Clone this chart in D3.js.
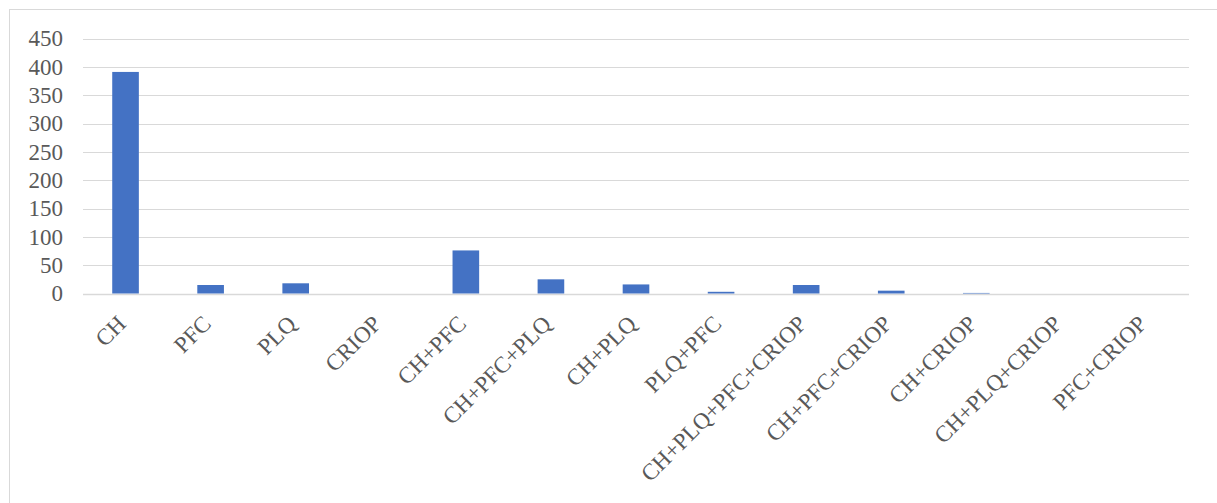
<!DOCTYPE html>
<html>
<head>
<meta charset="utf-8">
<script src="https://cdn.jsdelivr.net/npm/d3@7"></script>
<style>
  body { margin: 0; background: #fff; }
  text { font-family: "Liberation Serif", "Times New Roman", serif; fill: #595959; }
</style>
</head>
<body>
<div id="chart"></div>
<script>
// data
const categories = ["CH", "PFC", "PLQ", "CRIOP", "CH+PFC", "CH+PFC+PLQ", "CH+PLQ", "PLQ+PFC",
  "CH+PLQ+PFC+CRIOP", "CH+PFC+CRIOP", "CH+CRIOP", "CH+PLQ+CRIOP", "PFC+CRIOP"];
const counts = [391, 15, 18, 0, 76, 25, 16, 3, 15, 5, 1, 0, 0];
const yTicks = [0, 50, 100, 150, 200, 250, 300, 350, 400, 450];

const W = 1217, H = 503;
const margin = {top: 38.5, right: 28, bottom: 209.5, left: 83};

const svg = d3.select("#chart").append("svg")
    .attr("width", W)
    .attr("height", H);

// chart frame
svg.append("rect")
    .attr("x", 9.5).attr("y", 9.5)
    .attr("width", W).attr("height", H)
    .attr("fill", "none")
    .attr("stroke", "#d9d9d9")
    .attr("stroke-width", 1);

const x = d3.scaleBand()
    .domain(categories)
    .range([margin.left, W - margin.right])
    .paddingInner(0.687)
    .paddingOuter(0.3435);

const y = d3.scaleLinear()
    .domain([0, 450])
    .range([H - margin.bottom, margin.top]);

// gridlines
svg.append("g")
    .selectAll("line")
    .data(yTicks)
    .enter()
    .append("line")
    .attr("x1", margin.left)
    .attr("x2", W - margin.right)
    .attr("y1", d => Math.round(y(d)) + 0.5)
    .attr("y2", d => Math.round(y(d)) + 0.5)
    .attr("stroke", "#d9d9d9")
    .attr("stroke-width", d => d === 0 ? 1.5 : 1);

// y axis labels
const yAxis = svg.append("g")
    .attr("transform", "translate(" + (margin.left - 20) + ",0)")
    .call(d3.axisLeft(y).tickValues(yTicks).tickSize(0).tickPadding(0));
yAxis.select(".domain").remove();
yAxis.selectAll("text")
    .attr("font-size", 23)
    .attr("font-family", "Liberation Serif")
    .attr("fill", "#595959");

// bars
svg.append("g")
    .selectAll("rect")
    .data(categories)
    .enter()
    .append("rect")
    .attr("x", d => x(d))
    .attr("width", x.bandwidth())
    .attr("y", (d, i) => y(counts[i]))
    .attr("height", (d, i) => y(0) - y(counts[i]))
    .attr("fill", "#4472c4");

// rotated category labels
const xAxis = svg.append("g")
    .attr("transform", "translate(0," + (H - margin.bottom) + ")")
    .call(d3.axisBottom(x).tickSize(0).tickPadding(0));
xAxis.select(".domain").remove();
xAxis.selectAll("text")
    .attr("font-size", 23)
    .attr("font-family", "Liberation Serif")
    .attr("fill", "#595959")
    .attr("text-anchor", "end")
    .attr("dy", "0.35em")
    .attr("y", 0)
    .attr("transform", "translate(-4,26) rotate(-45)");
</script>
</body>
</html>
